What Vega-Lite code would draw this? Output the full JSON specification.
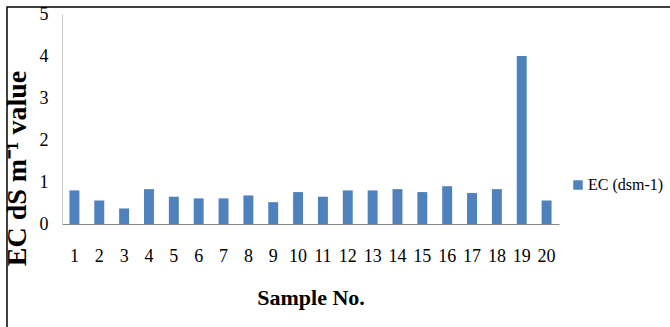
{
  "$schema": "https://vega.github.io/schema/vega-lite/v6.json",
  "autosize": {"type": "none"},
  "width": 675,
  "height": 335,
  "padding": {"left": 7, "top": 7, "right": -12, "bottom": -15},
  "background": "white",
  "config": {
    "view": {"stroke": "#000000", "strokeWidth": 1.5},
    "font": "Liberation Serif"
  },
  "data": {
    "values": [
      {"sample": "1", "ec": 0.80},
      {"sample": "2", "ec": 0.56},
      {"sample": "3", "ec": 0.37},
      {"sample": "4", "ec": 0.83},
      {"sample": "5", "ec": 0.65},
      {"sample": "6", "ec": 0.61},
      {"sample": "7", "ec": 0.61},
      {"sample": "8", "ec": 0.68},
      {"sample": "9", "ec": 0.52},
      {"sample": "10", "ec": 0.76},
      {"sample": "11", "ec": 0.65},
      {"sample": "12", "ec": 0.80},
      {"sample": "13", "ec": 0.80},
      {"sample": "14", "ec": 0.83},
      {"sample": "15", "ec": 0.76},
      {"sample": "16", "ec": 0.90},
      {"sample": "17", "ec": 0.74},
      {"sample": "18", "ec": 0.83},
      {"sample": "19", "ec": 4.00},
      {"sample": "20", "ec": 0.56}
    ]
  },
  "mark": {"type": "bar"},
  "encoding": {
    "x": {
      "field": "sample",
      "type": "ordinal",
      "sort": null,
      "scale": {"range": [55, 552], "paddingInner": 0.6, "paddingOuter": 0.3},
      "axis": {
        "orient": "bottom",
        "offset": -118,
        "title": "Sample No.",
        "labelAngle": 0,
        "labelFont": "Liberation Serif",
        "labelFontSize": 18,
        "labelColor": "#000000",
        "labelPadding": 23,
        "ticks": false,
        "domainColor": "#868686",
        "domainWidth": 1,
        "titleFont": "Liberation Serif",
        "titleFontSize": 22,
        "titleFontWeight": "bold",
        "titleColor": "#000000",
        "titleY": 73,
        "titleBaseline": "middle"
      }
    },
    "y": {
      "field": "ec",
      "type": "quantitative",
      "scale": {"domain": [0, 5], "range": [217, 7], "nice": false, "zero": true},
      "axis": {
        "orient": "left",
        "offset": -55,
        "values": [0, 1, 2, 3, 4, 5],
        "grid": false,
        "ticks": false,
        "title": "EC dS m⁻¹ value",
        "labelFont": "Liberation Serif",
        "labelFontSize": 18,
        "labelColor": "#000000",
        "labelPadding": 14,
        "domainColor": "#c8c8c8",
        "domainWidth": 1,
        "titleFont": "Liberation Serif",
        "titleFontSize": 28,
        "titleFontWeight": "bold",
        "titleColor": "#000000",
        "titleAngle": -90,
        "titleX": -45,
        "titleY": 161,
        "titleAlign": "center",
        "titleBaseline": "middle"
      }
    },
    "color": {
      "datum": "EC (dsm-1)",
      "type": "nominal",
      "scale": {"range": ["#4f81bd"]},
      "legend": {
        "title": null,
        "orient": "none",
        "legendX": 563,
        "legendY": 170,
        "padding": 0,
        "symbolType": "square",
        "symbolSize": 90,
        "symbolStrokeWidth": 0,
        "labelFont": "Liberation Serif",
        "labelFontSize": 16,
        "labelColor": "#000000",
        "labelOffset": 2
      }
    }
  }
}
